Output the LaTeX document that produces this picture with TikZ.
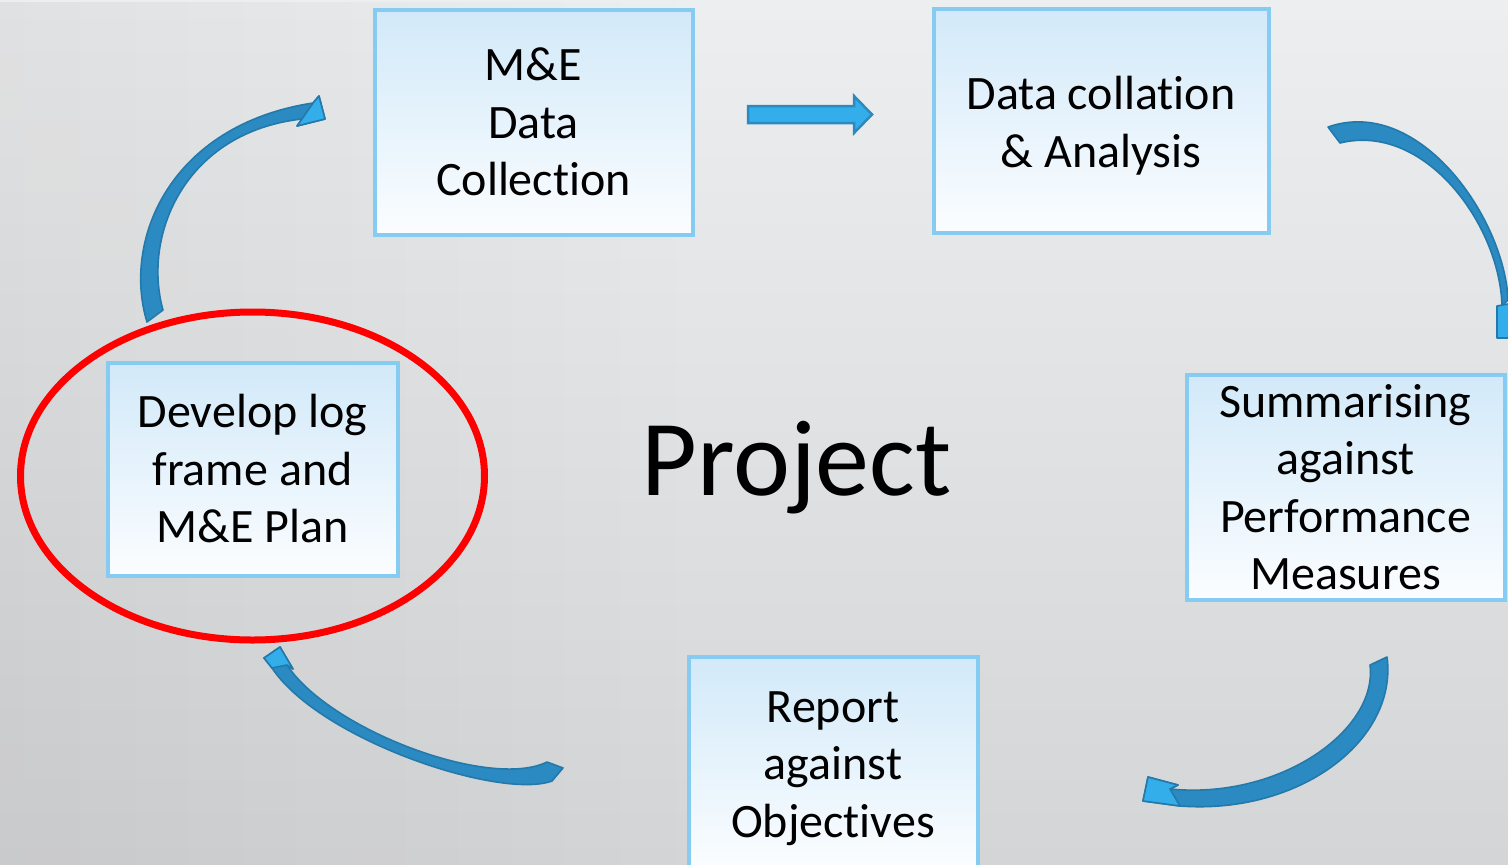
\documentclass[tikz,border=0pt]{standalone}
\usepackage{fontspec}
\setmainfont[RawFeature={-liga,-clig,-calt,-dlig}]{Carlito}
\usetikzlibrary{shapes.geometric,fadings}

\definecolor{bgtop}{HTML}{EDEEEF}
\definecolor{bgmid}{HTML}{F8F8F8}
\definecolor{bgbot}{HTML}{D4D5D7}
\definecolor{boxline}{HTML}{86CBF2}
\definecolor{boxtop}{HTML}{D2E9F9}
\definecolor{boxbot}{HTML}{FBFDFF}
\definecolor{arrbody}{HTML}{2A8AC1}
\definecolor{arrhead}{HTML}{33AEEA}
\definecolor{arredge}{HTML}{2479AB}

\tikzset{
  stagebox/.style={draw=boxline, line width=4pt, top color=boxtop, bottom color=boxbot,
    rectangle, inner sep=0pt, align=center, text=black,
    font=\fontsize{48}{57.5}\selectfont},
  bendbody/.style={fill=arrbody, draw=arredge, line width=1.6pt, line join=round},
  bendhead/.style={fill=arrhead, draw=arredge, line width=1.6pt, line join=round},
  flatarrow/.style={fill=arrhead, draw=arrbody, line width=2.5pt, line join=miter},
  focusring/.style={ellipse, draw=red, line width=7pt, inner sep=0pt},
}
% invisible strut that lowers a block of lines a little inside its box
\newcommand{\lowerby}[1]{\rule{0pt}{\dimexpr 36pt+2\dimexpr #1\relax\relax}}

\begin{document}
\begin{tikzpicture}[x=1pt, y=-1pt]
  \useasboundingbox (0,0) rectangle (1508,865);
  \clip (0,0) rectangle (1508,865);

  % backdrop
  \shade[top color=bgtop, middle color=bgmid, bottom color=bgbot] (0,0) rectangle (1508,865);
  \fill[black, fill opacity=0.05, path fading=east] (0,0) rectangle (700,865);

  % curved arrow: plan -> collection
  \draw[bendbody] (147,322) .. controls (122,240) and (170,125) .. (313,103)
     -- (319,96) -- (325,119) -- (297,126) -- (302,119)
     .. controls (185,132) and (142,235) .. (163,310) -- cycle;
  \draw[bendhead] (313,103) -- (319,96) -- (325,119) -- (297,126) -- (302,119) -- cycle;

  % curved arrow: analysis -> summarising
  \draw[bendbody] (1340,143) -- (1328,127) .. controls (1420,95) and (1505,220) .. (1508,300)
     -- (1502,306) .. controls (1500,225) and (1425,122) .. (1340,143) -- cycle;
  \draw[bendhead] (1497,306) -- (1530,300) -- (1530,338) -- (1497,338) -- cycle;

  % curved arrow: summarising -> report
  \draw[bendbody] (1370,665) -- (1387,657) .. controls (1398,740) and (1300,815) .. (1180,806)
     -- (1143,801) -- (1148,777) -- (1178,785) -- (1170,789)
     .. controls (1280,800) and (1378,730) .. (1370,665) -- cycle;
  \draw[bendhead] (1180,806) -- (1143,801) -- (1148,777) -- (1178,785) -- (1170,789) -- cycle;

  % curved arrow: report -> plan
  \draw[bendbody] (547,762) -- (563,768) -- (552,781) .. controls (500,800) and (320,740) .. (272,668)
     -- (264,658) -- (280,647) -- (293,669) -- (287,665)
     .. controls (330,730) and (490,790) .. (547,762) -- cycle;
  \draw[bendhead] (272,668) -- (264,658) -- (280,647) -- (293,669) -- (287,665) -- cycle;

  % stages
  \node[stagebox, minimum width=318pt, minimum height=225pt] (collect) at (533.5,122) {M\&E\\Data\\Collection};
  \node[stagebox, minimum width=335pt, minimum height=224pt] (analyse) at (1101,120.5) {\lowerby{4pt}Data collation\\\& Analysis};
  \node[stagebox, minimum width=318pt, minimum height=225pt] (summ) at (1345.5,487) {Summarising\\against\\Performance\\Measures};
  \node[stagebox, minimum width=289pt, minimum height=213pt] (report) at (833,763) {\lowerby{3pt}Report\\against\\Objectives};
  \node[stagebox, minimum width=290pt, minimum height=213pt] (plan) at (252.5,469) {Develop log\\frame and\\M\&E Plan};

  % highlight around the planning stage
  \node[focusring, minimum width=464pt, minimum height=328pt] (ring) at (252.5,476) {};

  % straight arrow between the two top stages
  \draw[flatarrow] (748,106) -- (854,106) -- (854,96) -- (872,114.5) -- (854,133) -- (854,123) -- (748,123) -- cycle;

  % centre title
  \node[anchor=base, font=\fontsize{108}{120}\selectfont, text=black] (title) at (796.5,495) {Project};
\end{tikzpicture}
\end{document}
